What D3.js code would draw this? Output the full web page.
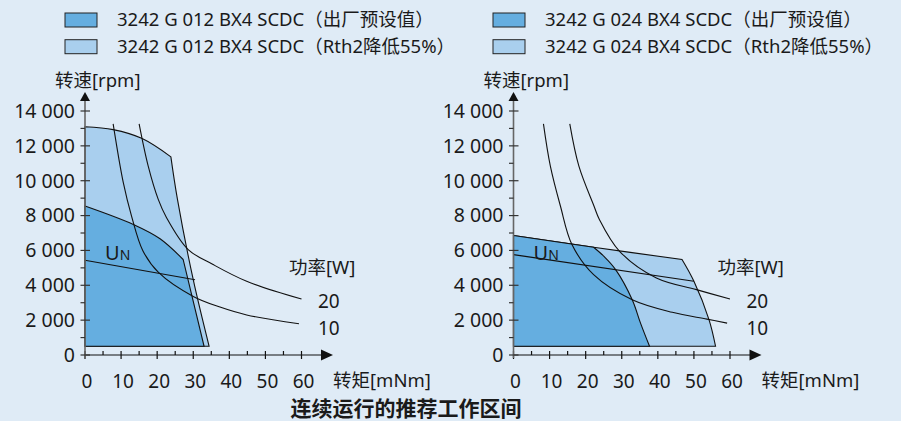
<!DOCTYPE html>
<html>
<head>
<meta charset="utf-8">
<script src="https://cdn.jsdelivr.net/npm/d3@7"></script>
<style>
  html, body { margin: 0; padding: 0; background: #dfebf6; }
  svg { display: block; }
  text { font-family: 'Noto Sans', 'Noto Sans CJK SC', sans-serif; fill: #1a1a1a; }
</style>
</head>
<body>
<svg id="chart"></svg>
<script>
// torque [mNm], speed [rpm]
const torqueTicks = [0, 5, 10, 15, 20, 25, 30, 35, 40, 45, 50, 55, 60];
const torqueLabels = [0, 10, 20, 30, 40, 50, 60];
const speedTicks = [0, 1000, 2000, 3000, 4000, 5000, 6000, 7000, 8000, 9000, 10000, 11000, 12000, 13000, 14000];
const speedLabels = [0, 2000, 4000, 6000, 8000, 10000, 12000, 14000];
const baseSpeed = 500;

const legendNames = [
  '3242 G 012 BX4 SCDC（出厂预设值）',
  '3242 G 012 BX4 SCDC（Rth2降低55%）',
  '3242 G 024 BX4 SCDC（出厂预设值）',
  '3242 G 024 BX4 SCDC（Rth2降低55%）'
];

// 012 motor
const g012DefaultTop = [[0, 8550], [13.4, 7490], [20.8, 6670], [27.2, 5480]];
const g012DefaultEdge = [[27.2, 5480], [33.0, 500]];
const g012ReducedTop = [[0, 13100], [7.8, 12930], [15.7, 12430], [23.8, 11370]];
const g012ReducedEdge = [[23.8, 11370], [25.6, 8960], [30.0, 4320], [34.4, 500]];
const g012Un = [[0, 5440], [30.5, 4320]];
const g012P10 = [[7.8, 13260], [10.6, 9900], [12.9, 7970], [16.0, 6000], [20.3, 4750], [30.0, 3360], [37.4, 2750], [44.8, 2300], [59.3, 1790]];
const g012P20 = [[15.0, 13260], [17.5, 10850], [20.3, 8930], [22.6, 7880], [28.6, 6050], [35.5, 5190], [44.8, 4230], [60.0, 3210]];

// 024 motor
const g024DefaultTop = [[0, 6860], [22.2, 6180]];
const g024DefaultEdge = [[22.2, 6180], [25.0, 5670], [28.3, 4900], [32.9, 3170], [35.2, 1830], [37.7, 500]];
const g024ReducedTop = [[0, 6860], [22.2, 6180], [46.7, 5480]];
const g024ReducedEdge = [[46.7, 5480], [50.0, 4230], [54.2, 2020], [56.0, 500]];
const g024Un = [[0, 5760], [50.0, 4230]];
const g024P10 = [[8.3, 13260], [10.2, 10850], [13.0, 8550], [16.2, 6340], [22.2, 4610], [32.9, 3170], [44.0, 2450], [53.6, 2060], [59.2, 1830]];
const g024P20 = [[15.6, 13260], [18.1, 10850], [22.3, 8550], [23.8, 7780], [29.4, 5950], [39.6, 4420], [50.7, 3750], [60.0, 3210]];

const W = 901;
const H = 421;
const darkFill = '#65aee0';
const lightFill = '#a9cfee';

const svg = d3.select('#chart').attr('width', W).attr('height', H);
svg.append('rect').attr('width', W).attr('height', H).attr('fill', '#dfebf6');

const y = d3.scaleLinear().domain([0, 14000]).range([355, 111]);

// legend
const legend = svg.append('g');
legendNames.forEach((name, i) => {
  const lx = i < 2 ? 65 : 493;
  const ly = 13 + (i % 2) * 26.7;
  legend.append('rect')
    .attr('x', lx).attr('y', ly).attr('width', 32).attr('height', 14)
    .attr('fill', i % 2 === 0 ? darkFill : lightFill)
    .attr('stroke', '#222').attr('stroke-width', 1);
  legend.append('text')
    .attr('x', lx + 52).attr('y', ly + 7).attr('dy', '0.35em')
    .attr('font-size', 18.5)
    .text(name);
});

const drawPanel = (opts) => {
  const x = d3.scaleLinear().domain([0, 60]).range([opts.x0, opts.x0 + 216.5]);
  const g = svg.append('g');

  const smooth = d3.line()
    .x((d) => x(d[0]))
    .y((d) => y(d[1]))
    .curve(d3.curveCatmullRom);

  const region = (top, edge) => smooth(top) + smooth(edge).replace(/^M/, 'L')
    + `L${x(0)},${y(baseSpeed)}Z`;

  g.append('path')
    .attr('d', region(opts.reducedTop, opts.reducedEdge))
    .attr('fill', lightFill).attr('stroke', '#111').attr('stroke-width', 1.1);
  g.append('path')
    .attr('d', region(opts.defaultTop, opts.defaultEdge))
    .attr('fill', darkFill).attr('stroke', '#111').attr('stroke-width', 1.1);

  [opts.un, opts.p10, opts.p20].forEach((pts) => {
    g.append('path')
      .attr('d', smooth(pts))
      .attr('fill', 'none').attr('stroke', '#111').attr('stroke-width', 1.1);
  });

  // x axis
  const ax = x(0);
  const ay = y(0);
  g.append('line')
    .attr('x1', ax).attr('x2', ax + 238).attr('y1', ay).attr('y2', ay)
    .attr('stroke', '#111').attr('stroke-width', 1.2);
  g.append('path')
    .attr('d', `M${ax + 248},${ay}L${ax + 236},${ay - 5.5}L${ax + 236},${ay + 5.5}Z`)
    .attr('fill', '#111');
  g.selectAll('.xt').data(torqueTicks).enter().append('line')
    .attr('x1', (d) => x(d)).attr('x2', (d) => x(d))
    .attr('y1', (d) => ay - 4)
    .attr('y2', (d) => (d % 10 === 0 ? ay + 4 : ay))
    .attr('stroke', '#111').attr('stroke-width', 1.2);
  g.selectAll('.xl').data(torqueLabels).enter().append('text')
    .attr('x', (d) => x(d) + 2).attr('y', 381).attr('dy', '0.35em')
    .attr('text-anchor', 'middle').attr('font-size', 19)
    .text((d) => d);
  g.append('text')
    .attr('x', opts.x0 + 248).attr('y', 381).attr('dy', '0.35em')
    .attr('font-size', 18.5).text('转矩[mNm]');

  // y axis
  g.append('line')
    .attr('x1', ax).attr('x2', ax).attr('y1', ay + 3).attr('y2', 98)
    .attr('stroke', '#666').attr('stroke-width', 1.6);
  g.append('path')
    .attr('d', `M${ax},${92}L${ax - 5},${101}L${ax + 5},${101}Z`)
    .attr('fill', '#111');
  g.selectAll('.yt').data(speedTicks).enter().append('line')
    .attr('x1', ax - 4.5)
    .attr('x2', (d) => (d % 2000 === 0 ? ax + 5 : ax))
    .attr('y1', (d) => y(d)).attr('y2', (d) => y(d))
    .attr('stroke', '#333').attr('stroke-width', 1.2);
  g.selectAll('.yl').data(speedLabels).enter().append('text')
    .attr('x', ax - 10).attr('y', (d) => y(d)).attr('dy', '0.35em')
    .attr('text-anchor', 'end').attr('font-size', 19.5)
    .text((d) => d3.format(',')(d).replace(',', ' '));
  g.append('text')
    .attr('x', ax - 30).attr('y', 81).attr('dy', '0.35em')
    .attr('font-size', 18.5).text('转速[rpm]');

  // annotations
  const un = g.append('text')
    .attr('x', opts.x0 + 20).attr('y', 253).attr('dy', '0.35em').attr('font-size', 20);
  un.append('tspan').text('U');
  un.append('tspan').attr('font-size', 14).text('N');

  g.append('text')
    .attr('x', opts.x0 + 204).attr('y', 268).attr('dy', '0.35em')
    .attr('font-size', 18.5).text('功率[W]');
  g.append('text')
    .attr('x', opts.x0 + 233).attr('y', 301).attr('dy', '0.35em')
    .attr('font-size', 19).text('20');
  g.append('text')
    .attr('x', opts.x0 + 233).attr('y', 328).attr('dy', '0.35em')
    .attr('font-size', 19).text('10');
};

drawPanel({
  x0: 85,
  defaultTop: g012DefaultTop, defaultEdge: g012DefaultEdge,
  reducedTop: g012ReducedTop, reducedEdge: g012ReducedEdge,
  un: g012Un, p10: g012P10, p20: g012P20
});

drawPanel({
  x0: 513.5,
  defaultTop: g024DefaultTop, defaultEdge: g024DefaultEdge,
  reducedTop: g024ReducedTop, reducedEdge: g024ReducedEdge,
  un: g024Un, p10: g024P10, p20: g024P20
});

svg.append('text')
  .attr('x', 406).attr('y', 409).attr('dy', '0.35em')
  .attr('text-anchor', 'middle').attr('font-size', 21).attr('font-weight', 'bold')
  .text('连续运行的推荐工作区间');
</script>
</body>
</html>
